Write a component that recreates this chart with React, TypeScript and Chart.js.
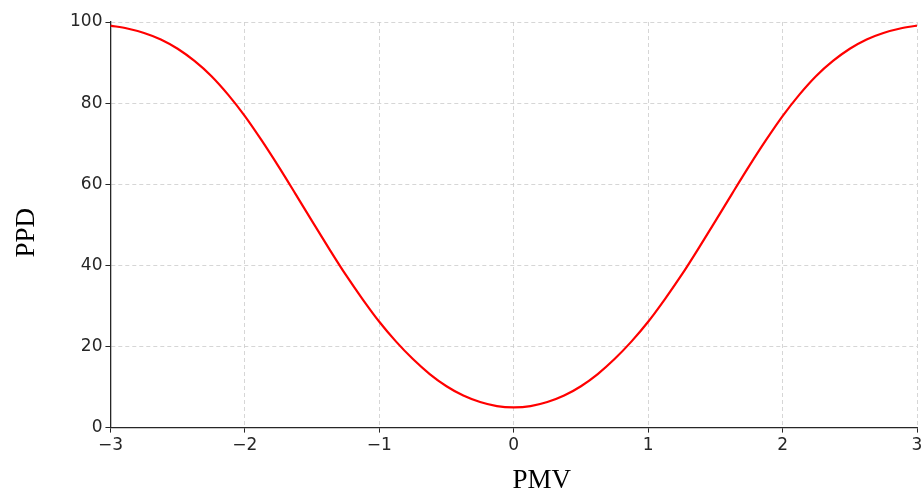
import React, { useEffect, useRef } from "react";
import { Chart, registerables } from "chart.js";

Chart.register(...registerables);

const pmv = [
  -3, -2.875, -2.75, -2.625, -2.5, -2.375, -2.25, -2.125, -2, -1.875, -1.75, -1.625, -1.5, -1.375, -1.25, -1.125,
  -1, -0.875, -0.75, -0.625, -0.5, -0.375, -0.25, -0.125, 0, 0.125, 0.25, 0.375, 0.5, 0.625, 0.75, 0.875,
  1, 1.125, 1.25, 1.375, 1.5, 1.625, 1.75, 1.875, 2, 2.125, 2.25, 2.375, 2.5, 2.625, 2.75, 2.875, 3,
];
const ppd = [
  99.1, 98.4, 97.3, 95.7, 93.4, 90.4, 86.7, 82.1, 76.8, 70.8, 64.4, 57.7, 50.9, 44.2, 37.7, 31.7,
  26.1, 21.2, 16.9, 13.2, 10.2, 7.9, 6.3, 5.3, 5.0, 5.3, 6.3, 7.9, 10.2, 13.2, 16.9, 21.2,
  26.1, 31.7, 37.7, 44.2, 50.9, 57.7, 64.4, 70.8, 76.8, 82.1, 86.7, 90.4, 93.4, 95.7, 97.3, 98.4, 99.1,
];
const xTicks = [-3, -2, -1, 0, 1, 2, 3];
const yTicks = [0, 20, 40, 60, 80, 100];
const xTitle = "PMV";
const yTitle = "PPD";

const fmt = (v: number) => (v < 0 ? "\u2212" + Math.abs(v) : String(v));

const titlesPlugin = {
  id: "titles",
  afterDraw(chart: any) {
    const { ctx, chartArea } = chart;
    ctx.save();
    ctx.fillStyle = "#000";
    ctx.font = '27px "Liberation Serif"';
    ctx.textAlign = "center";
    ctx.textBaseline = "alphabetic";
    ctx.fillText(xTitle, (chartArea.left + chartArea.right) / 2 + 28, 488);
    ctx.translate(34, (chartArea.top + chartArea.bottom) / 2 + 8);
    ctx.rotate(-Math.PI / 2);
    ctx.fillText(yTitle, 0, 0);
    ctx.restore();
  },
};

export default function App() {
  const ref = useRef<HTMLCanvasElement>(null);
  useEffect(() => {
    document.body.style.margin = "0";
    document.body.style.overflow = "hidden";
    const gridCommon = {
      color: "#cccccc",
      lineWidth: 0.8,
      tickLength: 5,
      tickColor: "#262626",
      tickWidth: 1,
      tickBorderDash: [],
    };
    const chart = new Chart(ref.current!, {
      type: "line",
      data: {
        datasets: [
          {
            data: pmv.map((x, i) => ({ x, y: ppd[i] })),
            borderColor: "#ff0000",
            borderWidth: 2.2,
            pointRadius: 0,
            cubicInterpolationMode: "monotone",
            fill: false,
          },
        ],
      },
      options: {
        animation: false,
        responsive: true,
        maintainAspectRatio: false,
        layout: { padding: { left: 67, right: 13, top: 22, bottom: 29 } },
        plugins: { legend: { display: false }, tooltip: { enabled: false } },
        scales: {
          x: {
            type: "linear",
            min: -3,
            max: 3,
            afterBuildTicks: (s: any) => { s.ticks = xTicks.map((v) => ({ value: v })); },
            ticks: { callback: (v: any) => fmt(Number(v)), color: "#262626", font: { family: "DejaVu Sans", size: 17 }, padding: 3, maxRotation: 0 },
            grid: gridCommon,
            border: { color: "#262626", width: 1.3, dash: [4, 3] },
          },
          y: {
            min: 0,
            max: 100,
            afterBuildTicks: (s: any) => { s.ticks = yTicks.map((v) => ({ value: v })); },
            ticks: { color: "#262626", font: { family: "DejaVu Sans", size: 17 }, padding: 3 },
            grid: gridCommon,
            border: { color: "#262626", width: 1.3, dash: [4, 3] },
          },
        },
      },
      plugins: [titlesPlugin],
    } as any);
    return () => chart.destroy();
  }, []);
  return (
    <div style={{ position: "fixed", left: 0, top: 0, width: 930, height: 488 }}>
      <canvas ref={ref} />
    </div>
  );
}
